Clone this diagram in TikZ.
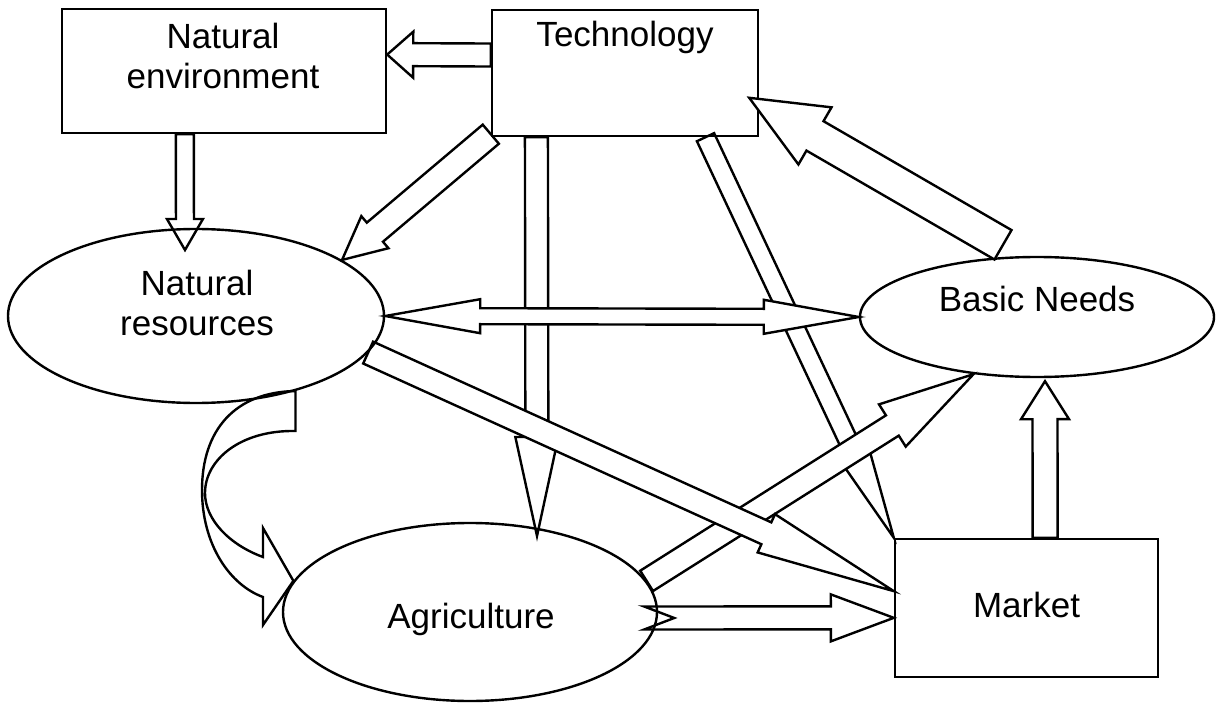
\documentclass[tikz,border=0pt]{standalone}
\usepackage{fontspec}
\setmainfont{Liberation Sans}
\usepackage{tikz}
\usetikzlibrary{calc,shapes.geometric,backgrounds,positioning}
\pgfdeclarelayer{myback}
\pgfsetlayers{myback,background,main}
\tikzset{%
  boxnode/.style={draw,line width=2.4pt,rectangle,inner sep=0pt},
  ovalnode/.style={draw,line width=2.4pt,ellipse,inner sep=0pt},
  txt/.style={font=\fontsize{35}{40}\selectfont,align=center,inner sep=0pt},
  fat/.style={draw,line width=2.4pt,fill=white,line join=miter},
}
% block arrow: [style]{tail}{tip}{half shaft}{half head}{head length}
\newcommand*{\fatarrow}[6][]{%
  \coordinate (fa-h) at ($(#3)!#6!(#2)$);
  \draw[fat,#1] ($(#2)!#4!90:(#3)$) -- ($(fa-h)!#4!90:(#3)$) -- ($(fa-h)!#5!90:(#3)$) -- (#3)
    -- ($(fa-h)!#5!-90:(#3)$) -- ($(fa-h)!#4!-90:(#3)$) -- ($(#2)!#4!-90:(#3)$) -- cycle;
}
% two headed block arrow
\newcommand*{\fatdouble}[6][]{%
  \coordinate (fd-a) at ($(#2)!#6!(#3)$);
  \coordinate (fd-b) at ($(#3)!#6!(#2)$);
  \draw[fat,#1] (#2) -- ($(fd-a)!#5!90:(#3)$) -- ($(fd-a)!#4!90:(#3)$) -- ($(fd-b)!#4!-90:(#2)$)
    -- ($(fd-b)!#5!-90:(#2)$) -- (#3) -- ($(fd-b)!#5!90:(#2)$) -- ($(fd-b)!#4!90:(#2)$)
    -- ($(fd-a)!#4!-90:(#3)$) -- ($(fd-a)!#5!-90:(#3)$) -- cycle;
}

\begin{document}
\begin{tikzpicture}[x=1pt,y=-1pt]
    \useasboundingbox (0,0) rectangle (1223,703);
    \node[boxnode, minimum width=324pt, minimum height=124pt] (natenv) at (224,71) {};
    \node[boxnode, minimum width=266pt, minimum height=126pt] (tech) at (625,73) {};
    \node[ovalnode, minimum width=376pt, minimum height=174pt] (natres) at (196,316) {};
    \node[ovalnode, minimum width=354pt, minimum height=120pt] (basic) at (1037,317) {};
    \node[ovalnode, minimum width=374pt, minimum height=178pt] (agri) at (470,612) {};
    \node[boxnode, minimum width=263pt, minimum height=138pt] (market) at (1026.5,608) {};

    \node[txt, anchor=north] (natenv-text) at ($(natenv.north)+(-1,15)$) {Natural\\environment};
    \node[txt, anchor=base] (tech-text) at ($(tech.north)+(0,38)$) {Technology};
    \node[txt, anchor=north] (natres-text) at ($(natres.center)+(1,-46)$) {Natural\\resources};
    \node[txt, anchor=base] (basic-text) at ($(basic.center)+(0,-5)$) {Basic Needs};
    \node[txt, anchor=base] (agri-text) at ($(agri.center)+(1,16)$) {Agriculture};
    \node[txt, anchor=base] (market-text) at ($(market.center)+(0,9)$) {Market};

    \coordinate (tn-a) at ($(tech.north west)!0.36!(tech.south west)$);
    \coordinate (tn-b) at ($(natenv.north east)!0.37!(natenv.south east)$);
    \coordinate (en-a) at ($(natenv.south west)!0.38!(natenv.south east)$);
    \coordinate (en-b) at ($(natres.center)+(-11,-66)$);
    \coordinate (tr-a) at ($(tech.south west)+(0,-3)$);
    \coordinate (ta-a) at ($(tech.south west)!0.17!(tech.south east)$);
    \coordinate (ta-b) at ($(agri.center)+(67,-76)$);
    \coordinate (tm-a) at ($(tech.south west)!0.8!(tech.south east)$);
    \coordinate (nm-b) at ($(market.north west)!0.38!(market.south west)$);
    \coordinate (mb-a) at ($(market.north west)!0.57!(market.north east)$);
    \coordinate (mb-b) at ($(basic.south)+(8,3)$);
    \coordinate (am-a) at ($(agri.east)+(-14,6)$);
    \coordinate (am-b) at ($(market.north west)!0.57!(market.south west)$);
    \coordinate (bt-a) at ($(basic.north)+(-34,-11)$);
    \coordinate (bt-b) at ($(tech.north east)+(-10,89)$);
    \coordinate (ra-a) at (natres.-37);
    \coordinate (ra-b) at (agri.170);

    \begin{pgfonlayer}{myback}
    \fatarrow{tn-a}{tn-b}{11.5pt}{23pt}{26pt}
    \fatarrow{en-a}{en-b}{9pt}{18pt}{31pt}
    \fatarrow{tr-a}{natres.21}{12.5pt}{21pt}{43pt}
    \fatarrow{tm-a}{market.north west}{9.5pt}{15pt}{88pt}
    \fatarrow{ta-a}{ta-b}{11.5pt}{21.5pt}{99pt}
    \fatarrow{agri.10}{basic.222}{12pt}{25pt}{96pt}
    \fatarrow{natres.-12}{nm-b}{12pt}{21pt}{140pt}
    \fatdouble{natres.east}{basic.west}{8pt}{17pt}{95pt}
    \fatarrow{mb-a}{mb-b}{12.5pt}{24pt}{38pt}
    \coordinate (am-h) at ($(am-b)!63pt!(am-a)$);
    \draw[fat] ($(am-a)!11.5pt!90:(am-b)$) -- ($(am-h)!11.5pt!90:(am-b)$) -- ($(am-h)!23.5pt!90:(am-b)$) -- (am-b)
      -- ($(am-h)!23.5pt!-90:(am-b)$) -- ($(am-h)!11.5pt!-90:(am-b)$) -- ($(am-a)!11.5pt!-90:(am-b)$)
      -- ($(am-a)!30pt!(am-b)$) -- cycle;
    \draw[fat] (ra-a) .. controls (235,392) and (202,430) .. (202,490)
      .. controls (202,545) and (230,585) .. (263,597) -- (263,625) -- (ra-b) -- (263,528) -- (263,557)
      .. controls (230,545) and (205,520) .. (205,493) .. controls (205,460) and (240,430) .. ($(ra-a)+(0,40)$) -- cycle;
    \end{pgfonlayer}

    \fatarrow{bt-a}{bt-b}{17pt}{33pt}{76pt}
\end{tikzpicture}
\end{document}
